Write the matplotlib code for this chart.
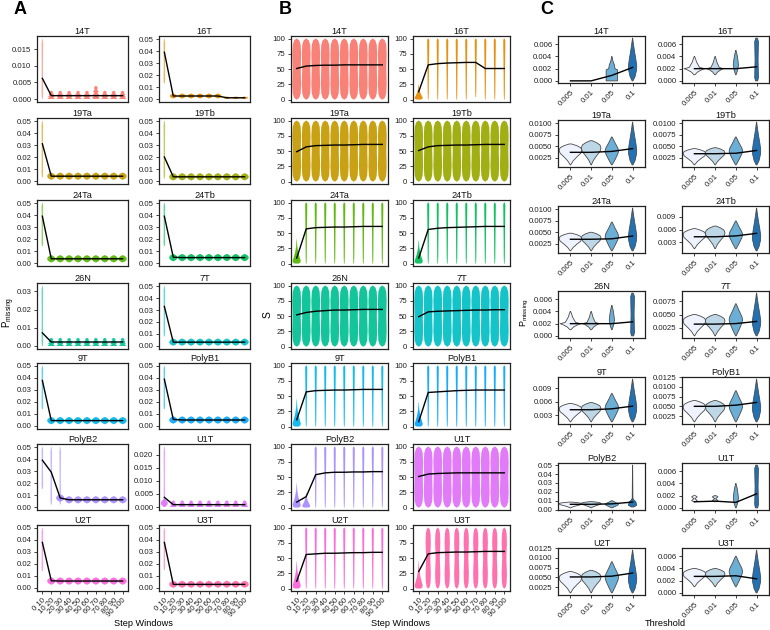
import matplotlib
matplotlib.use("Agg")
import matplotlib.pyplot as plt
from matplotlib.patches import Polygon

plt.rcParams["font.family"] = ["Liberation Sans", "DejaVu Sans"]

# ── Data ─────────────────────────────────────────────────────────────────────
GROUPS = ["14T", "16T", "19Ta", "19Tb", "24Ta", "24Tb", "26N",
          "7T", "9T", "PolyB1", "PolyB2", "U1T", "U2T", "U3T"]
COLORS = ["#F8766D", "#E38900", "#C49A00", "#99A800", "#53B400", "#00BC56", "#00C094",
          "#00BFC4", "#00B6EB", "#06A4FF", "#A58AFF", "#DF70F8", "#FB61D7", "#FF66A8"]
WINDOWS = ["0 10", "10 20", "20 30", "30 40", "40 50",
           "50 60", "60 70", "70 80", "80 90", "90 100"]
THRESHOLDS = ["0.005", "0.01", "0.05", "0.1"]
BLUES = ["#EFF3FF", "#BDD7E7", "#6BAED6", "#2171B5"]

# Panel A: P_missing by step window (mean line + violin extent)
A_MEAN = {
    "14T":    [.0062, .001, .001, .001, .001, .001, .001, .001, .001, .001],
    "16T":    [.039, .0025, .0025, .0025, .0025, .0025, .0025, .001, .001, .001],
    "19Ta":   [.031, .004, .004, .004, .004, .004, .004, .004, .004, .004],
    "19Tb":   [.020, .0035, .0035, .0035, .0035, .0035, .0035, .0035, .0035, .0035],
    "24Ta":   [.039, .0035, .0035, .0035, .0035, .0035, .0035, .0035, .0035, .0035],
    "24Tb":   [.039, .0048, .0045, .0045, .0045, .0045, .0045, .0045, .0045, .0045],
    "26N":    [.0072, .0022, .0022, .0022, .0022, .0022, .0022, .0022, .0022, .0022],
    "7T":     [.033, .0032, .0032, .0032, .0032, .0032, .0032, .0032, .0032, .0032],
    "9T":     [.038, .0045, .0045, .0045, .0045, .0045, .0045, .0045, .0045, .0045],
    "PolyB1": [.039, .0055, .005, .005, .005, .005, .005, .005, .005, .005],
    "PolyB2": [.039, .029, .0075, .006, .006, .006, .006, .006, .006, .006],
    "U1T":    [.0037, .0009, .0009, .0009, .0009, .0009, .0009, .0009, .0009, .0009],
    "U2T":    [.038, .006, .0058, .0058, .0058, .0058, .0058, .0058, .0058, .0058],
    "U3T":    [.038, .003, .003, .003, .003, .003, .003, .003, .003, .003],
}
A_LO = {
    "14T":    [0, 0, 0, 0, 0, 0, 0, 0, 0, 0],
    "16T":    [.013, .0005, .0005, .0005, .0005, .0005, .0005, 0, 0, 0],
    "19Ta":   [.003, .001, .001, .001, .001, .001, .001, .001, .001, .001],
    "19Tb":   [.002, .0005, .0005, .0005, .0005, .0005, .0005, .0005, .0005, .0005],
    "24Ta":   [.014, .0005, .0005, .0005, .0005, .0005, .0005, .0005, .0005, .0005],
    "24Tb":   [.014, .0015, .0015, .0015, .0015, .0015, .0015, .0015, .0015, .0015],
    "26N":    [0, 0, 0, 0, 0, 0, 0, 0, 0, 0],
    "7T":     [.008, .0003, .0003, .0003, .0003, .0003, .0003, .0003, .0003, .0003],
    "9T":     [.014, .0015, .0015, .0015, .0015, .0015, .0015, .0015, .0015, .0015],
    "PolyB1": [.014, .002, .002, .002, .002, .002, .002, .002, .002, .002],
    "PolyB2": [.015, .002, .002, .003, .003, .003, .003, .003, .003, .003],
    "U1T":    [0, 0, 0, 0, 0, 0, 0, 0, 0, 0],
    "U2T":    [.014, .0028, .0028, .0028, .0028, .0028, .0028, .0028, .0028, .0028],
    "U3T":    [.015, .0002, .0002, .0002, .0002, .0002, .0002, .0002, .0002, .0002],
}
A_HI = {
    "14T":    [.018, .0025, .0025, .0025, .0025, .0025, .004, .0025, .0025, .0025],
    "16T":    [.05, .0045, .0045, .0045, .0045, .0045, .0045, .002, .002, .002],
    "19Ta":   [.05, .007, .007, .007, .007, .007, .007, .007, .007, .007],
    "19Tb":   [.05, .0065, .0065, .0065, .0065, .0065, .0065, .0065, .0065, .0065],
    "24Ta":   [.05, .0065, .0065, .0065, .0065, .0065, .0065, .0065, .0065, .0065],
    "24Tb":   [.05, .0075, .0075, .0075, .0075, .0075, .0075, .0075, .0075, .0075],
    "26N":    [.033, .0045, .0045, .0045, .0045, .0045, .0045, .0045, .0045, .0045],
    "7T":     [.05, .0062, .0062, .0062, .0062, .0062, .0062, .0062, .0062, .0062],
    "9T":     [.05, .0075, .0075, .0075, .0075, .0075, .0075, .0075, .0075, .0075],
    "PolyB1": [.05, .008, .008, .008, .008, .008, .008, .008, .008, .008],
    "PolyB2": [.05, .05, .05, .009, .009, .009, .009, .009, .009, .009],
    "U1T":    [.023, .0025, .0025, .0025, .0025, .0025, .0025, .0025, .0025, .0025],
    "U2T":    [.05, .0088, .0088, .0088, .0088, .0088, .0088, .0088, .0088, .0088],
    "U3T":    [.05, .006, .006, .006, .006, .006, .006, .006, .006, .006],
}
# violin kind per window: n = needle, d = diamond, s = star, b = blob
A_KIND = {
    "14T": "nsssssssss", "16T": "nbbbbbbbbb", "19Ta": "nddddddddd",
    "19Tb": "nddddddddd", "24Ta": "nddddddddd", "24Tb": "nddddddddd",
    "26N": "nsssssssss", "7T": "nddddddddd", "9T": "nddddddddd",
    "PolyB1": "nddddddddd", "PolyB2": "nnnddddddd", "U1T": "nsssssssss",
    "U2T": "nddddddddd", "U3T": "nddddddddd",
}
A_EXTRA = {"PolyB2": [(3, .0045, .0105, "d")], "U1T": [(1, 0, .003, "b")]}
A_YTICKS = {
    "14T": [0, .005, .010, .015],
    "26N": [0, .01, .02, .03],
    "U1T": [0, .005, .010, .015, .020],
}
A_YDEFAULT = [0, .01, .02, .03, .04, .05]
A_YDEC = {"14T": 3, "U1T": 3}

# Panel B: S by step window
B_MEAN = {
    "14T":    [51, 55, 56, 56.5, 56.5, 57, 57, 57, 57, 57],
    "16T":    [13, 57, 59, 60, 60.5, 61, 61, 51, 51, 51],
    "19Ta":   [49, 57, 59, 59.5, 60, 60, 60.5, 61, 61, 61],
    "19Tb":   [51, 57, 59, 59.5, 60, 60, 60.5, 61, 61, 61],
    "24Ta":   [9, 57, 59, 59.5, 60, 60, 60.5, 61, 61, 61],
    "24Tb":   [9, 56, 58, 59, 59.5, 60, 60.5, 61, 61, 61],
    "26N":    [52, 56, 58, 59, 60, 60, 60.5, 61, 61, 61],
    "7T":     [49, 57, 58, 58.5, 59, 59.5, 60, 60, 60.5, 60.5],
    "9T":     [11, 57, 59, 59.5, 60, 60, 60.5, 61, 61, 61],
    "PolyB1": [8, 56, 57, 58, 59, 59.5, 60, 60, 60, 60],
    "PolyB2": [9, 18, 54, 57, 58, 58, 58.5, 58.5, 59, 59],
    "U1T":    [51, 55, 56, 56.5, 57, 57, 57, 57, 57, 57],
    "U2T":    [12, 56, 57, 58, 58, 58.5, 59, 59, 59.5, 59.5],
    "U3T":    [28, 57, 59, 59.5, 60, 60, 60.5, 61, 61, 61],
}
B_HI = {
    "16T":    [25, 100, 100, 100, 100, 100, 100, 100, 100, 100],
    "24Ta":   [40, 100, 100, 100, 100, 100, 100, 100, 100, 100],
    "24Tb":   [38, 100, 100, 100, 100, 100, 100, 100, 100, 100],
    "9T":     [45, 100, 100, 100, 100, 100, 100, 100, 100, 100],
    "PolyB1": [40, 100, 100, 100, 100, 100, 100, 100, 100, 100],
    "PolyB2": [40, 25, 100, 100, 100, 100, 100, 100, 100, 100],
    "U2T":    [45, 100, 100, 100, 100, 100, 100, 100, 100, 100],
    "U3T":    [45, 100, 100, 100, 100, 100, 100, 100, 100, 100],
}
B_LO = {"16T": [0, 0, 0, 0, 0, 0, 4, 0, 0, 0]}
# f = flame, p = spike, r = barrel, m = narrow barrel
B_KIND = {
    "14T": "rrrrrrrrrr", "16T": "fppppppppp", "19Ta": "rrrrrrrrrr",
    "19Tb": "rrrrrrrrrr", "24Ta": "fppppppppp", "24Tb": "fppppppppp",
    "26N": "rrrrrrrrrr", "7T": "rrrrrrrrrr", "9T": "fppppppppp",
    "PolyB1": "fppppppppp", "PolyB2": "ffpppppppp", "U1T": "rrrrrrrrrr",
    "U2T": "fppppppppp", "U3T": "fmmmmmmmmm",
}

# Panel C: P_missing by threshold
C_MEAN = {
    "14T":    [0, 0, .0009, .0022],
    "16T":    [.002, .002, .002, .0023],
    "19Ta":   [.0037, .0037, .0039, .0045],
    "19Tb":   [.0034, .0034, .0035, .0041],
    "24Ta":   [.0035, .0035, .0036, .0042],
    "24Tb":   [.0043, .0043, .0045, .0051],
    "26N":    [.002, .002, .002, .0023],
    "7T":     [.0032, .0032, .0033, .0037],
    "9T":     [.0042, .0042, .0044, .005],
    "PolyB1": [.005, .005, .0053, .006],
    "PolyB2": [.006, .006, .0065, .0085],
    "U1T":    [.001, .0011, .0009, .0023],
    "U2T":    [.0051, .0051, .0053, .0061],
    "U3T":    [.0027, .0027, .0028, .0023],
}
C_LO = {
    "14T":    [0, 0, 0, 0],
    "16T":    [.001, .001, .001, 0],
    "19Ta":   [.001, .001, .001, .001],
    "19Tb":   [.001, .001, .001, .001],
    "24Ta":   [.001, .001, .001, .001],
    "24Tb":   [.0015, .0015, .0015, .001],
    "26N":    [.001, .001, .001, 0],
    "7T":     [.001, .001, .001, .001],
    "9T":     [.0015, .0015, .0015, .0015],
    "PolyB1": [.001, .001, .001, .001],
    "PolyB2": [.002, .002, .002, .003],
    "U1T":    [.001, .001, 0, 0],
    "U2T":    [.001, .001, .001, .001],
    "U3T":    [.001, .001, .001, 0],
}
C_HI = {
    "14T":    [0, 0, .004, .007],
    "16T":    [.004, .004, .005, .007],
    "19Ta":   [.0055, .0062, .007, .0102],
    "19Tb":   [.0045, .0047, .007, .0102],
    "24Ta":   [.0048, .005, .0072, .0102],
    "24Tb":   [.0062, .0068, .008, .011],
    "26N":    [.004, .004, .005, .007],
    "7T":     [.005, .005, .007, .009],
    "9T":     [.0056, .0058, .0078, .011],
    "PolyB1": [.0065, .0065, .009, .012],
    "PolyB2": [.0085, .009, .01, .05],
    "U1T":    [.002, .002, .004, .007],
    "U2T":    [.0065, .0068, .009, .012],
    "U3T":    [.004, .004, .006, .007],
}
C_KIND = {
    "14T": "..XT", "16T": "Ssqn", "19Ta": "WVDT", "19Tb": "WVDT", "24Ta": "WVDT",
    "24Tb": "WVDT", "26N": "Ssqn", "7T": "WVDT", "9T": "WVDT", "PolyB1": "WVDT",
    "PolyB2": "WVDP", "U1T": "HHqn", "U2T": "WVDT", "U3T": "WVDT",
}
C_YTICKS = {
    "14T": [0, .002, .004, .006], "16T": [0, .002, .004, .006],
    "19Ta": [.0025, .005, .0075, .01], "19Tb": [.0025, .005, .0075, .01],
    "24Ta": [.0025, .005, .0075, .01], "24Tb": [.003, .006, .009],
    "26N": [0, .002, .004, .006], "7T": [.0025, .005, .0075],
    "9T": [.003, .006, .009], "PolyB1": [.0025, .005, .0075, .01, .0125],
    "PolyB2": [0, .01, .02, .03, .04, .05], "U1T": [0, .002, .004, .006],
    "U2T": [.0025, .005, .0075, .01, .0125], "U3T": [0, .002, .004, .006],
}
C_YDEC = {"19Ta": 4, "19Tb": 4, "24Ta": 4, "7T": 4, "PolyB1": 4, "U2T": 4, "PolyB2": 2}

# ── Violin outlines (relative height, relative half-width) and widths ────────
SHAPES = {
    # panel A
    "n": ([0, .08, .5, .92, 1], [.6, 1, .8, 1, .4], .18),
    "d": ([0, .12, .25, .38, .5, .62, .75, .88, 1], [.08, .55, .8, .95, 1, .95, .8, .55, .08], .92),
    "s": ([0, .08, .2, .3, .45, .55, .7, .85, 1], [.7, 1, .5, .85, .45, .75, .35, .5, .05], .85),
    "b": ([0, .25, .5, .75, 1], [.2, .8, 1, .8, .2], .8),
    # panel B
    "r": ([0, .03, .1, .25, .5, .75, .9, .97, 1], [.1, .6, .9, 1, .92, 1, .9, .6, .1], .92),
    "m": ([0, .03, .1, .25, .5, .75, .9, .97, 1], [.1, .6, .9, 1, .8, 1, .9, .6, .1], .55),
    "p": ([0, .1, .5, .85, .97, 1], [.3, .5, .7, .95, 1, .5], .22),
    "f": ([0, .04, .12, .25, .45, .7, 1], [.5, .9, 1, .75, .4, .15, .03], .85),
    # panel C
    "W": ([0, .2, .4, .55, .7, .82, .92, 1], [.02, .25, .6, .9, 1, .9, .55, .1], 1.1),
    "V": ([0, .2, .4, .55, .7, .82, .92, 1], [.02, .25, .6, .9, 1, .9, .55, .1], .95),
    "D": ([0, .2, .4, .5, .6, .8, 1], [.05, .5, .9, 1, .9, .45, .05], .65),
    "T": ([0, .1, .25, .35, .5, .7, .9, 1], [.1, .6, .95, 1, .8, .45, .15, .02], .4),
    "S": ([0, .15, .3, .33, .4, .55, .7, .85, 1], [.05, .3, .8, 1, .5, .35, .2, .12, .02], 1.0),
    "s_": ([0, .15, .3, .33, .4, .55, .7, .85, 1], [.05, .3, .8, 1, .5, .35, .2, .12, .02], .8),
    "q": ([0, .2, .4, .6, .8, 1], [.1, .7, 1, .8, .5, .05], .25),
    "X": ([0, .45, .5, .65, .8, 1], [1, 1, .55, .45, .2, .02], .55),
    "H": ([0, .2, .5, .8, 1], [.3, .9, .15, .9, .3], .3),
    "P": ([0, .04, .12, .18, .22, .6, 1], [.3, 1, .8, .2, .08, .05, .02], .4),
}
C_SHAPE_ALIAS = {"s": "s_"}

BORDER = "#222222"
W, H = 770, 630
fig = plt.figure(figsize=(W / 100, H / 100), dpi=100)


def make_ax(left, top, w, h):
    return fig.add_axes([left / W, 1 - (top + h) / H, w / W, h / H])


def violin(ax, x, lo, hi, shape, color, alpha=0.9, ec="none", lw=0):
    t, rw, width = SHAPES[shape]
    ys = [lo + (hi - lo) * ti for ti in t]
    right = [(x + wi * width / 2, y) for wi, y in zip(rw, ys)]
    left = [(x - wi * width / 2, y) for wi, y in zip(rw, ys)][::-1]
    ax.add_patch(Polygon(right + left, closed=True, fc=color, ec=ec, lw=lw,
                         alpha=alpha, joinstyle="round"))


def style_ax(ax, title):
    for sp in ax.spines.values():
        sp.set_color(BORDER)
        sp.set_linewidth(0.9)
    ax.tick_params(axis="both", length=2.5, width=0.6, color=BORDER,
                   labelsize=5.6, labelcolor="#222222", pad=1.5)
    ax.set_title(title, fontsize=6.6, pad=1.2, color="#111111")


ROW_AB = [36, 118, 200, 283, 363, 444, 525]
ROW_C = [36, 120, 206, 291, 377, 463, 548]

for i, g in enumerate(GROUPS):
    r, c = divmod(i, 2)
    col = COLORS[i]
    xs = list(range(1, 11))

    # ── Panel A ──
    ax = make_ax([37, 159][c], ROW_AB[r], 91, 66)
    for k, kind in enumerate(A_KIND[g]):
        violin(ax, xs[k], A_LO[g][k], A_HI[g][k], kind, col,
               alpha=0.6 if kind == "n" else 0.9)
    for (x, lo, hi, kind) in A_EXTRA.get(g, []):
        violin(ax, x, lo, hi, kind, col, alpha=0.9)
    ax.plot(xs, A_MEAN[g], color="black", lw=1.0, zorder=5)
    yt = A_YTICKS.get(g, A_YDEFAULT)
    ymax = max(A_HI[g])
    ax.set_ylim(-0.05 * ymax, 1.05 * ymax)
    dec = A_YDEC.get(g, 2)
    ax.set_yticks(yt)
    ax.set_yticklabels([f"{v:.{dec}f}" for v in yt])
    ax.set_xlim(0.4, 10.6)
    ax.set_xticks(xs)
    style_ax(ax, g)
    if r == 6:
        ax.set_xticklabels(WINDOWS, rotation=45, ha="right", rotation_mode="anchor")
    else:
        ax.tick_params(axis="x", bottom=False, labelbottom=False)

    # ── Panel B ──
    ax = make_ax([291, 413][c], ROW_AB[r], 97, 66)
    his = B_HI.get(g, [100] * 10)
    los = B_LO.get(g, [0] * 10)
    for k, kind in enumerate(B_KIND[g]):
        violin(ax, xs[k], los[k], his[k], kind, col, alpha=0.92)
    ax.plot(xs, B_MEAN[g], color="black", lw=1.0, zorder=5)
    ax.set_ylim(-4, 104.4)
    ax.set_yticks([0, 25, 50, 75, 100])
    ax.set_xlim(0.4, 10.6)
    ax.set_xticks(xs)
    style_ax(ax, g)
    if r == 6:
        ax.set_xticklabels(WINDOWS, rotation=45, ha="right", rotation_mode="anchor")
    else:
        ax.tick_params(axis="x", bottom=False, labelbottom=False)

    # ── Panel C ──
    ax = make_ax([558, 682][c], ROW_C[r], 87, 47)
    xc = [1, 2, 3, 4]
    for k, kind in enumerate(C_KIND[g]):
        if kind == "." or C_HI[g][k] <= C_LO[g][k]:
            continue
        violin(ax, xc[k], C_LO[g][k], C_HI[g][k], C_SHAPE_ALIAS.get(kind, kind),
               BLUES[k], alpha=1.0, ec="#4a4a4a", lw=0.6)
    ax.plot(xc, C_MEAN[g], color="black", lw=1.0, zorder=5)
    lo, hi = min(C_LO[g]), max(C_HI[g])
    span = hi - lo
    ax.set_ylim(lo - 0.05 * span, hi + 0.05 * span)
    yt = C_YTICKS[g]
    dec = C_YDEC.get(g, 3)
    ax.set_yticks(yt)
    ax.set_yticklabels([f"{v:.{dec}f}" for v in yt])
    ax.set_xlim(0.4, 4.6)
    ax.set_xticks(xc)
    style_ax(ax, g)
    ax.set_xticklabels(THRESHOLDS, rotation=45, ha="right", rotation_mode="anchor")

# ── Panel letters and axis labels ────────────────────────────────────────────
for x, lab in [(20, "A"), (285, "B"), (547, "C")]:
    fig.text(x / W, 1 - 9 / H, lab, fontsize=13, fontweight="bold",
             ha="center", va="center")

fig.text(143 / W, 1 - 624 / H, "Step Windows", fontsize=6.6, ha="center", va="center")
fig.text(400 / W, 1 - 624 / H, "Step Windows", fontsize=6.6, ha="center", va="center")
fig.text(665 / W, 1 - 624 / H, "Threshold", fontsize=6.6, ha="center", va="center")
fig.text(9 / W, 1 - 312 / H, r"P$_{\mathregular{missing}}$", fontsize=7,
         rotation=90, ha="center", va="center")
fig.text(268 / W, 1 - 315 / H, "S", fontsize=7.5, rotation=90, ha="center", va="center")
fig.text(525 / W, 1 - 312 / H, r"P$_{\mathregular{missing}}$", fontsize=6.5,
         rotation=90, ha="center", va="center")

fig.savefig("out.png", dpi=100, facecolor="white")
